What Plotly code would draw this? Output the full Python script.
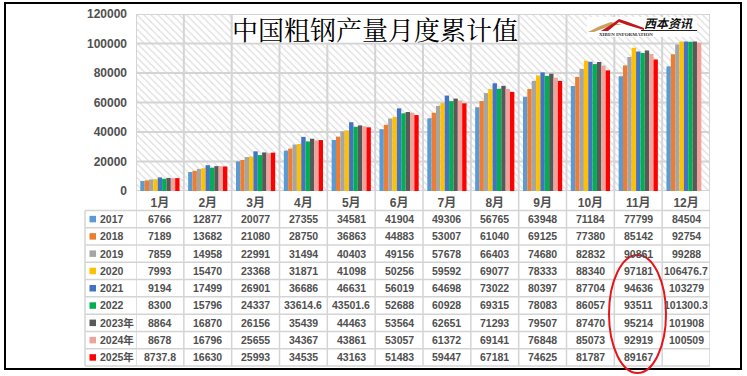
import plotly.graph_objects as go

# ---------------- data ----------------
months = ['1月', '2月', '3月', '4月', '5月', '6月', '7月', '8月', '9月', '10月', '11月', '12月']
series_names = ['2017', '2018', '2019', '2020', '2021', '2022', '2023年', '2024年', '2025年']
y2017 = [6766, 12877, 20077, 27355, 34581, 41904, 49306, 56765, 63948, 71184, 77799, 84504]
y2018 = [7189, 13682, 21080, 28750, 36863, 44883, 53007, 61040, 69125, 77380, 85142, 92754]
y2019 = [7859, 14958, 22991, 31494, 40403, 49156, 57678, 66403, 74680, 82832, 90861, 99288]
y2020 = [7993, 15470, 23368, 31871, 41098, 50256, 59592, 69077, 78333, 88340, 97181, 106476.7]
y2021 = [9194, 17499, 26901, 36686, 46631, 56019, 64698, 73022, 80397, 87704, 94636, 103279]
y2022 = [8300, 15796, 24337, 33614.6, 43501.6, 52688, 60928, 69315, 78083, 86057, 93511, 101300.3]
y2023 = [8864, 16870, 26156, 35439, 44463, 53564, 62651, 71293, 79507, 87470, 95214, 101908]
y2024 = [8678, 16796, 25655, 34367, 43861, 53057, 61372, 69141, 76848, 85073, 92919, 100509]
y2025 = [8737.8, 16630, 25993, 34535, 43163, 51483, 59447, 67181, 74625, 81787, 89167, None]
series_values = [y2017, y2018, y2019, y2020, y2021, y2022, y2023, y2024, y2025]
y_ticks = [0, 20000, 40000, 60000, 80000, 100000, 120000]
title_text = '中国粗钢产量月度累计值'

# ---------------- style ----------------
colors = ['#5B9BD5', '#ED7D31', '#A5A5A5', '#FFC000', '#4472C4', '#00B050', '#595959', '#EFA39B', '#FF0000']
W, H = 747, 376
L, R, T, B = 136, 37, 14, 185
PW, PH = W - L - R, H - T - B
YMAX = y_ticks[-1]
NCAT = len(months)
GRID = '#D4D4D4'
TXT = '#505050'
FONT = 'Liberation Sans, Arial, Noto Sans CJK SC'


def px_x(x):
    return (x - L) / PW


def px_y(y):
    return (T + PH - y) / PH


def fmt(v):
    if v is None:
        return ''
    if float(v) == int(v):
        return str(int(v))
    return f'{v:.1f}'


hatch = dict(shape='\\', size=5, solidity=0.22, fgcolor='#DCDCDC', bgcolor='white', fillmode='replace')

fig = go.Figure()

# hatched plot background (main numeric axes, under everything)
fig.add_trace(go.Bar(x=[(NCAT - 1) / 2], y=[YMAX], width=NCAT, xaxis='x', yaxis='y',
                     marker=dict(color='white', line=dict(width=0), pattern=hatch),
                     hoverinfo='skip', showlegend=False))

# grid lines drawn over the hatch (still under the bars, which live on overlay axes)
gx, gy = [], []
for t in y_ticks:
    gx += [-0.5, NCAT - 0.5, None]
    gy += [t, t, None]
for j in range(NCAT + 1):
    gx += [j - 0.5, j - 0.5, None]
    gy += [0, YMAX, None]
fig.add_trace(go.Scatter(x=gx, y=gy, mode='lines', line=dict(color=GRID, width=2), xaxis='x', yaxis='y',
                         hoverinfo='skip', showlegend=False, cliponaxis=False))

# data bars on overlay axes
for name, vals, c in zip(series_names, series_values, colors):
    fig.add_trace(go.Bar(x=months, y=vals, name=name, xaxis='x2', yaxis='y2',
                         marker=dict(color=c, line=dict(width=0)), showlegend=False))

# top-right background patch above the bars (as in the source picture)
cover_base = 101300
fig.add_trace(go.Bar(x=[months[-1]], y=[YMAX - 700 - cover_base], base=[cover_base], width=0.96,
                     xaxis='x3', yaxis='y3',
                     marker=dict(color='white', line=dict(width=0), pattern=hatch),
                     hoverinfo='skip', showlegend=False))

cat_axis = dict(type='category', categoryorder='array', categoryarray=months, range=[-0.5, NCAT - 0.5])
fig.update_layout(
    width=W, height=H,
    margin=dict(l=L, r=R, t=T, b=B, autoexpand=False),
    paper_bgcolor='white', plot_bgcolor='white',
    barmode='group', bargap=0.18, bargroupgap=0,
    xaxis=dict(range=[-0.5, NCAT - 0.5], tickvals=list(range(NCAT)), ticktext=months, showgrid=False,
               zeroline=False, showline=False, ticks='',
               tickfont=dict(family=FONT, size=12, color=TXT, weight='bold'), ticklabelstandoff=3),
    yaxis=dict(range=[0, YMAX], tickvals=y_ticks, tickformat='d', showgrid=False,
               showline=False, ticks='', zeroline=False,
               tickfont=dict(family=FONT, size=12, color=TXT, weight='bold'), ticklabelstandoff=8),
    xaxis2=dict(cat_axis, overlaying='x', visible=False),
    yaxis2=dict(range=[0, YMAX], overlaying='y', visible=False),
    xaxis3=dict(cat_axis, overlaying='x', visible=False),
    yaxis3=dict(range=[0, YMAX], overlaying='y', visible=False),
)

shapes = []
ann = []


def add_text(text, x, y, xref='paper', yref='paper', size=10.5, color=TXT, family=FONT, xanchor='center'):
    ann.append(dict(text=text, xref=xref, yref=yref, x=x, y=y, showarrow=False,
                    xanchor=xanchor, yanchor='middle',
                    font=dict(family=family, size=size, color=color)))


# title box and title
shapes.append(dict(type='rect', xref='x', yref='y', x0=1.53, x1=7.47, y0=100600, y1=YMAX - 600,
                   fillcolor='white', line=dict(width=0), layer='above'))
add_text(title_text, 4.5, 110300, xref='x', yref='y', size=26, color='black',
         family='Noto Serif CJK SC, Noto Sans CJK SC')

# logo box
shapes.append(dict(type='rect', xref='paper', yref='paper', x0=px_x(587), x1=px_x(697), y0=px_y(37), y1=px_y(17),
                   fillcolor='white', line=dict(width=0), layer='above'))


def path(pts):
    return 'M ' + ' L '.join(f'{px_x(x):.5f},{px_y(y):.5f}' for x, y in pts) + ' Z'


shapes.append(dict(type='path', xref='paper', yref='paper', layer='above',
                   path=path([(588, 32), (600, 26), (611, 22), (622, 25), (612, 25), (602, 29), (594, 32)]),
                   fillcolor='#C9A35E', line=dict(width=0)))
shapes.append(dict(type='path', xref='paper', yref='paper', layer='above',
                   path=path([(601, 31), (612, 24), (619, 19), (628, 22), (644, 28), (644, 30), (627, 25),
                              (619, 22), (608, 31)]),
                   fillcolor='#C0161C', line=dict(width=0)))
shapes.append(dict(type='line', xref='paper', yref='paper', layer='above',
                   x0=px_x(641), x1=px_x(697), y0=px_y(30.5), y1=px_y(30.5), line=dict(color='#222', width=1)))
add_text('<b><i>西本资讯</i></b>', px_x(668), px_y(23), size=12, color='#111', family='Noto Sans CJK SC')
add_text('<b>XIBEN INFORMATION</b>', px_x(626), px_y(34.5), size=5, color='#333', family='Liberation Serif')

# data table
row_top = 210.4
row_h = 17.29
n_rows = len(series_names)
tbl_left = 85
tbl_bottom = row_top + n_rows * row_h
for k in range(n_rows + 1):
    yy = row_top + k * row_h
    shapes.append(dict(type='line', xref='paper', yref='paper', x0=px_x(tbl_left), x1=1,
                       y0=px_y(yy), y1=px_y(yy), line=dict(color=GRID, width=1.5)))
shapes.append(dict(type='line', xref='paper', yref='paper', x0=px_x(tbl_left), x1=px_x(tbl_left),
                   y0=px_y(row_top), y1=px_y(tbl_bottom), line=dict(color=GRID, width=1.5)))
for j in range(NCAT + 1):
    shapes.append(dict(type='line', xref='x', yref='paper', x0=j - 0.5, x1=j - 0.5,
                       y0=0, y1=px_y(tbl_bottom), line=dict(color=GRID, width=1.5)))

for i, (name, vals, c) in enumerate(zip(series_names, series_values, colors)):
    yc = row_top + (i + 0.5) * row_h
    shapes.append(dict(type='rect', xref='paper', yref='paper', x0=px_x(89.5), x1=px_x(96),
                       y0=px_y(yc + 3.3), y1=px_y(yc - 3.2), fillcolor=c, line=dict(width=0)))
    add_text(f'<b>{name}</b>', px_x(97.5), px_y(yc), xanchor='left')
    for j, v in enumerate(vals):
        add_text(f'<b>{fmt(v)}</b>', j, px_y(yc), xref='x')

# outer frame
shapes.append(dict(type='rect', xref='paper', yref='paper', x0=px_x(5), x1=px_x(741), y0=px_y(369), y1=px_y(3),
                   line=dict(color='black', width=2), fillcolor='rgba(0,0,0,0)', layer='above'))
# red ellipse highlight
shapes.append(dict(type='circle', xref='paper', yref='paper', x0=px_x(609), x1=px_x(666), y0=px_y(373), y1=px_y(255),
                   line=dict(color='#E8141B', width=2), fillcolor='rgba(0,0,0,0)', layer='above'))

fig.update_layout(shapes=shapes, annotations=ann)
fig.write_html('out.html', config={'displayModeBar': False},
               post_script="document.body.style.margin='0';document.body.style.padding='0';"
                           "document.documentElement.style.overflow='hidden';")
